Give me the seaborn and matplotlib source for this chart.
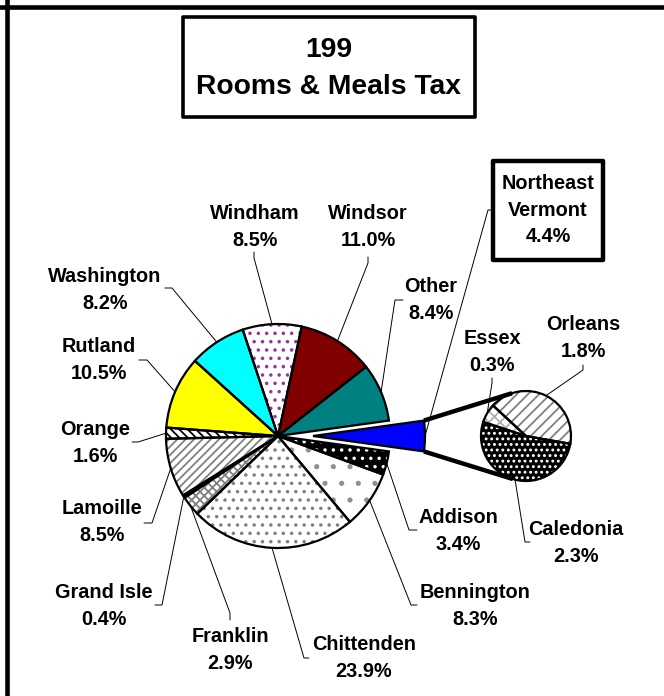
import numpy as np
import matplotlib.pyplot as plt
import matplotlib.patches as mpatches
import seaborn as sns

# Daten
title_lines = ["199", "Rooms & Meals Tax"]
main_labels = ["Northeast\nVermont", "Other", "Windsor", "Windham", "Washington", "Rutland",
               "Orange", "Lamoille", "Grand Isle", "Franklin", "Chittenden", "Bennington", "Addison"]
main_values = [4.4, 8.4, 11.0, 8.5, 8.2, 10.5, 1.6, 8.5, 0.4, 2.9, 23.9, 8.3, 3.4]
sub_labels = ["Orleans", "Essex", "Caledonia"]
sub_values = [1.8, 0.3, 2.3]

# Muster / Farben
main_faces = ["#0000FF", "#008080", "#800000", "white", "#00FFFF", "#FFFF00",
              "white", "white", "black", "white", "white", "white", "black"]
main_hatches = [None, None, None, "..", None, None,
                "\\\\\\\\", "////", None, "xxxx", "..", ".", ".."]
main_hatch_cols = ["#0000FF", "#008080", "#800000", "#993399", "#00FFFF", "#FFFF00",
                   "black", "#808080", "black", "#808080", "#808080", "#909090", "white"]
sub_faces = ["white", "white", "black"]
sub_hatches = ["///", "xxx", "..."]
sub_hatch_cols = ["#808080", "#B0B0B0", "white"]

# Label-Positionen (Bildkoordinaten): Textmitte, Knickpunkt, Ende des kurzen Strichs
main_label_pos = [(548, 210), (431, 300), (368, 227), (255, 227), (105, 290), (99, 360),
                  (95, 443), (102, 522), (104, 606), (230, 650), (364, 658), (475, 606), (458, 531)]
main_elbows = [(488, 210), (395, 300), (368, 263), (254, 258), (172, 288), (147, 360),
               (138, 442), (152, 523), (162, 605), (230, 613), (304, 658), (411, 605), (409, 530)]
main_ticks = [(493, 210), (403, 300), (368, 257), (254, 252), (165, 288), (139, 360),
              (132, 442), (144, 523), (155, 605), (230, 620), (309, 658), (417, 605), (417, 530)]
sub_label_pos = [(583, 338), (492, 352), (576, 543)]
sub_elbows = [(583, 370), (492, 383), (525, 542)]
sub_ticks = [(583, 365), (492, 378), (530, 542)]

W, H = 664, 696

def fy(y):
    return H - y

sns.set_theme(style="white")
plt.rcParams['font.family'] = ['Liberation Sans', 'DejaVu Sans']
plt.rcParams['hatch.linewidth'] = 1.3

fig = plt.figure(figsize=(W / 100, H / 100), dpi=100)
ax = fig.add_axes([0, 0, 1, 1])

main_c = (278, fy(436))
R = 112
start = -main_values[0] / sum(main_values) * 180
explode = [35] + [0] * (len(main_values) - 1)  # explode in Datenkoordinaten (Pixel)

# Füllung mit Mustern
fills, _ = ax.pie(main_values, startangle=start, counterclock=True, center=main_c, radius=R,
                  explode=explode, colors=main_faces, frame=True, wedgeprops=dict(linewidth=0))
for w, h, hc in zip(fills, main_hatches, main_hatch_cols):
    w.set_edgecolor(hc)
    if h:
        w.set_hatch(h)
wedges, _ = ax.pie(main_values, startangle=start, counterclock=True, center=main_c, radius=R,
                   explode=explode, frame=True,
                   wedgeprops=dict(fill=False, edgecolor="black", linewidth=1.6))

sub_c = (526, fy(436))
r2 = 45
sfills, _ = ax.pie(sub_values, startangle=-10, counterclock=True, center=sub_c, radius=r2,
                   colors=sub_faces, frame=True, wedgeprops=dict(linewidth=0))
for w, h, hc in zip(sfills, sub_hatches, sub_hatch_cols):
    w.set_edgecolor(hc)
    w.set_hatch(h)
swedges, _ = ax.pie(sub_values, startangle=-10, counterclock=True, center=sub_c, radius=r2,
                    frame=True, wedgeprops=dict(fill=False, edgecolor="black", linewidth=1.6))

# Verbindungslinien zwischen Tortenstück und Nebentorte
blue = wedges[0]
for th, phi in [(blue.theta2, 108), (blue.theta1, 253)]:
    p0 = (blue.center[0] + blue.r * np.cos(np.radians(th)), blue.center[1] + blue.r * np.sin(np.radians(th)))
    p1 = (sub_c[0] + r2 * np.cos(np.radians(phi)), sub_c[1] + r2 * np.sin(np.radians(phi)))
    ax.plot([p0[0], p1[0]], [p0[1], p1[1]], color="black", lw=3.2, solid_capstyle="butt")


def edge_point(w):
    th = np.radians((w.theta1 + w.theta2) / 2)
    return w.center[0] + w.r * np.cos(th), w.center[1] + w.r * np.sin(th)


def draw_labels(ws, names, vals, pos, elbows, ticks):
    for w, n, v, p, e, t in zip(ws, names, vals, pos, elbows, ticks):
        ex, ey = edge_point(w)
        ax.plot([ex, e[0], t[0]], [ey, fy(e[1]), fy(t[1])], color="black", lw=0.7)
        ax.text(p[0], fy(p[1]), f"{n}\n{v:.1f}%", ha="center", va="center", fontsize=14.3,
                fontweight="bold", linespacing=1.48, color="black")


draw_labels(wedges, main_labels, main_values, main_label_pos, main_elbows, main_ticks)
draw_labels(swedges, sub_labels, sub_values, sub_label_pos, sub_elbows, sub_ticks)

# Kasten um Northeast Vermont
ax.add_patch(mpatches.Rectangle((493, fy(260)), 110, 99, fill=False, ec="black", lw=3.2, joinstyle="round", zorder=3))

# Titel
ax.add_patch(mpatches.Rectangle((183, fy(117)), 292, 100, fill=False, ec="black", lw=2.6, joinstyle="round"))
ax.text(329, fy(50), title_lines[0], ha="center", va="center", fontsize=20.3, fontweight="bold", color="black")
ax.text(329, fy(87), title_lines[1], ha="center", va="center", fontsize=20.3, fontweight="bold", color="black")

# Rahmen oben und links
ax.plot([7, 7], [0, H], color="black", lw=3.3)
ax.plot([0, W], [fy(7), fy(7)], color="black", lw=3.3)

ax.set_xlim(0, W)
ax.set_ylim(0, H)
ax.set_aspect("equal")
ax.axis("off")
fig.savefig("out.png", dpi=100, facecolor="white")
